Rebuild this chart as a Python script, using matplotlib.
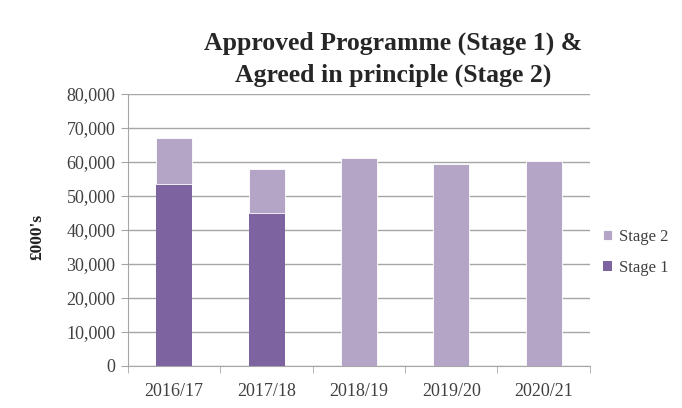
import numpy as np
import matplotlib.pyplot as plt
from matplotlib.ticker import FuncFormatter, MultipleLocator

years = ['2016/17', '2017/18', '2018/19', '2019/20', '2020/21']
stage1 = [53500, 45000, 0, 0, 0]
stage2 = [13500, 13000, 61000, 59300, 60400]

c1 = '#7d64a0'
c2 = '#b4a5c6'
grid_c = '#a6a6a6'
txt_c = '#404040'

plt.rcParams['font.family'] = ['Liberation Serif', 'DejaVu Serif']

fig = plt.figure(figsize=(6.82, 4.08), dpi=100)
ax = fig.add_axes([0.1877, 0.103, 0.677, 0.667])

x = np.arange(len(years))
ax.bar(x, stage1, width=0.39, color=c1, label='Stage 1', zorder=3)
ax.bar(x, stage2, width=0.39, bottom=stage1, color=c2, label='Stage 2', zorder=3,
       edgecolor='white', linewidth=0.6)

ax.set_xlim(-0.5, len(years) - 0.5)
ax.set_ylim(0, 80000)
ax.yaxis.set_major_locator(MultipleLocator(10000))
ax.yaxis.set_major_formatter(FuncFormatter(lambda v, p: f'{int(v):,}'))
ax.grid(axis='y', color=grid_c, linewidth=1.0, zorder=0)

ax.set_xticks(x)
ax.set_xticklabels(years)
ax.set_xticks(np.arange(-0.5, len(years)), minor=True)
ax.tick_params(axis='x', which='major', length=0, pad=12, labelsize=13, labelcolor=txt_c)
ax.tick_params(axis='x', which='minor', length=5, color=grid_c)
ax.tick_params(axis='y', length=5, color=grid_c, labelsize=13, labelcolor=txt_c, pad=4)

for s in ['top', 'right']:
    ax.spines[s].set_visible(False)
for s in ['left', 'bottom']:
    ax.spines[s].set_color(grid_c)

fig.text(37 / 682, 0.42, "£000's", rotation=90, ha='center', va='center',
         fontsize=12.5, fontweight='bold', color='#202020')

fig.text(0.576, 0.855, 'Approved Programme (Stage 1) &\nAgreed in principle (Stage 2)',
         ha='center', va='center', fontsize=18.5, fontweight='bold', color='#262626',
         linespacing=1.45)

handles, labels = ax.get_legend_handles_labels()
fig.legend(handles[::-1], labels[::-1], loc='center left', bbox_to_anchor=(0.872, 0.382),
           frameon=False, fontsize=12, handlelength=0.55, handleheight=0.55,
           handletextpad=0.4, labelspacing=0.9, labelcolor=txt_c, borderpad=0)

fig.savefig('out.png', dpi=100)
